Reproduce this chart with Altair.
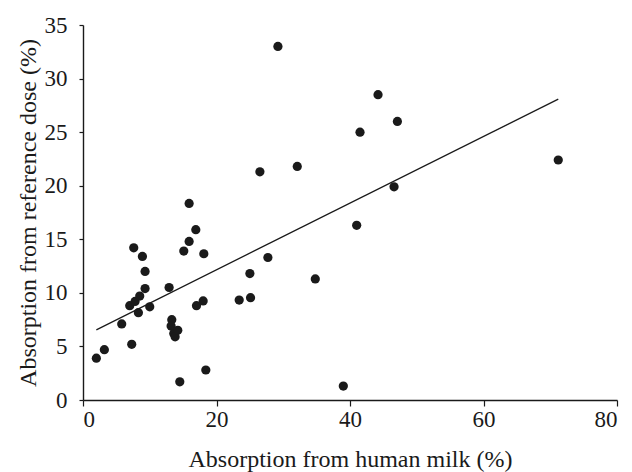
import altair as alt
import pandas as pd

# Absorption from human milk (%)
milk = [2.0, 3.2, 5.8, 7.3, 7.6, 7.0, 7.8, 8.5, 8.3, 8.9, 9.3, 9.3, 10.0,
        12.9, 13.3, 13.2, 13.6, 13.8, 14.2, 14.5, 15.1, 15.9, 15.9, 16.9,
        18.1, 17.0, 18.0, 18.4, 23.4, 25.1, 25.0, 27.7, 26.5, 29.2, 32.1,
        34.8, 39.0, 41.0, 41.5, 44.2, 46.6, 47.1, 71.2]
# Absorption from reference dose (%)
ref = [3.9, 4.7, 7.1, 5.2, 14.2, 8.8, 9.2, 9.7, 8.15, 13.4, 12.0, 10.4, 8.7,
       10.5, 7.5, 6.9, 6.2, 5.9, 6.5, 1.7, 13.9, 18.35, 14.8, 15.9,
       13.65, 8.8, 9.25, 2.8, 9.33, 9.55, 11.8, 13.3, 21.3, 33.0, 21.8,
       11.3, 1.3, 16.3, 25.0, 28.5, 19.9, 26.0, 22.4]

x_ticks = [0, 20, 40, 60, 80]
y_ticks = [0, 5, 10, 15, 20, 25, 30, 35]

df = pd.DataFrame({"milk": milk, "ref": ref})

FONT = "Liberation Serif"
INK = "#1a1a1a"

x_enc = alt.X(
    "milk:Q",
    scale=alt.Scale(domain=[0, 80], nice=False, zero=False),
    axis=alt.Axis(
        title="Absorption from human milk (%)",
        values=x_ticks,
        grid=False,
        tickSize=6,
        labelPadding=2,
        titlePadding=16,
    ),
)
y_enc = alt.Y(
    "ref:Q",
    scale=alt.Scale(domain=[0, 35], nice=False, zero=False),
    axis=alt.Axis(
        title="Absorption from reference dose (%)",
        values=y_ticks,
        grid=False,
        tickSize=4,
        labelPadding=12,
        titlePadding=4,
    ),
)

points = alt.Chart(df).mark_circle(size=85, color=INK, opacity=1).encode(x=x_enc, y=y_enc)

fit = (
    alt.Chart(df)
    .transform_regression("milk", "ref")
    .mark_line(color=INK, strokeWidth=1.3)
    .encode(x="milk:Q", y="ref:Q")
)

chart = (
    alt.layer(points, fit)
    .properties(
        width=534,
        height=375,
        autosize=alt.AutoSizeParams(type="none"),
        padding={"left": 83, "top": 25, "right": 15, "bottom": 72},
        background="white",
    )
    .configure_view(stroke=None)
    .configure_axis(
        domainColor=INK,
        domainWidth=1.4,
        tickColor=INK,
        tickWidth=1.2,
        labelFont=FONT,
        labelFontSize=23,
        labelColor=INK,
        titleFont=FONT,
        titleFontSize=24,
        titleFontWeight="normal",
        titleColor=INK,
    )
)

chart.save("out.html", embed_options={"renderer": "svg", "actions": False})
